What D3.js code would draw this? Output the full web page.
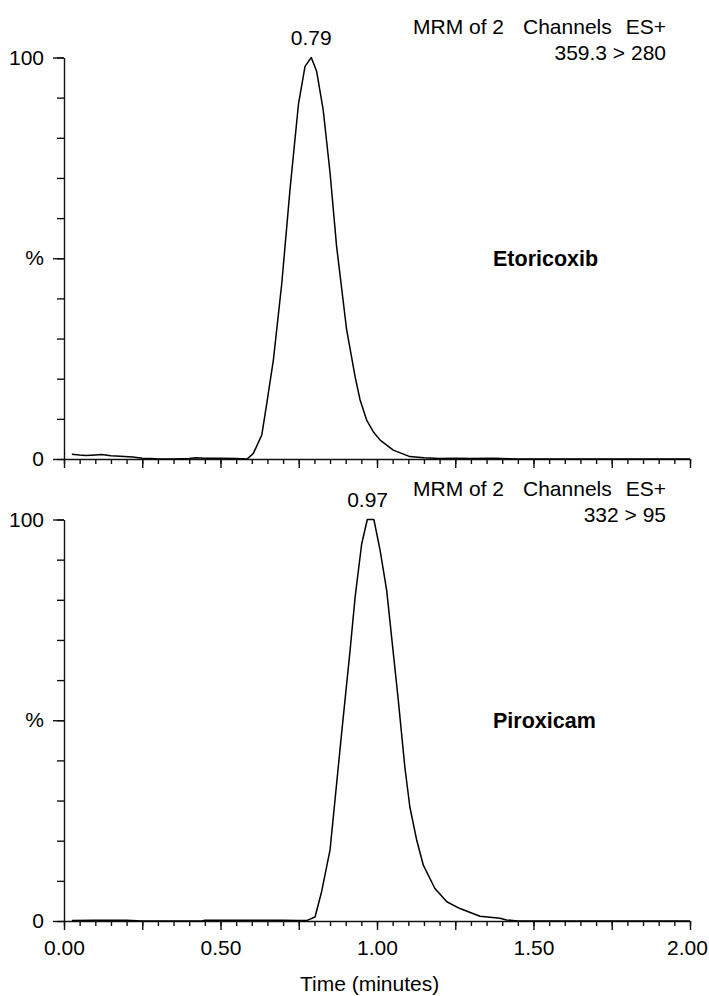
<!DOCTYPE html>
<html>
<head>
<meta charset="utf-8">
<script src="https://cdnjs.cloudflare.com/ajax/libs/d3/7.8.5/d3.min.js"></script>
<style>
body { margin: 0; background: #fff; }
text { font-family: "Liberation Sans", Arial, sans-serif; fill: #000; }
</style>
</head>
<body>
<svg id="chrom" width="709" height="996"></svg>
<script>
// Etoricoxib trace, time (min) and relative intensity (%)
var etoTime = [0.025, 0.05, 0.07, 0.10, 0.12, 0.15, 0.18, 0.22, 0.25, 0.28, 0.30, 0.35, 0.40, 0.42, 0.45, 0.50, 0.55, 0.585,
               0.605, 0.632, 0.648, 0.669, 0.696, 0.722, 0.749, 0.770, 0.790, 0.807, 0.828, 0.850, 0.871, 0.903, 0.930,
               0.946, 0.967, 0.988, 1.010, 1.052, 1.105, 1.15, 1.20, 1.25, 1.30, 1.37, 1.45, 1.60, 1.80, 2.00];
var etoPct  = [1.2, 1.0, 0.9, 1.0, 1.1, 0.8, 0.7, 0.5, 0.2, 0.1, 0, 0, 0.1, 0.3, 0.2, 0.2, 0.1, 0,
               1.4, 6.0, 13.9, 24.7, 43.9, 67.1, 88.3, 97.8, 100, 96.6, 87.0, 71.3, 52.9, 32.2, 20.5,
               14.7, 9.7, 6.8, 4.7, 2.2, 0.6, 0.3, 0.1, 0.2, 0.1, 0.2, 0, 0, 0, 0];

// Piroxicam trace
var piroTime = [0.025, 0.10, 0.20, 0.25, 0.44, 0.45, 0.60, 0.70, 0.75, 0.775, 0.802, 0.823, 0.850, 0.887, 0.914, 0.930,
                0.951, 0.969, 0.990, 1.010, 1.031, 1.068, 1.089, 1.105, 1.127, 1.148, 1.185, 1.223, 1.265, 1.329,
                1.393, 1.414, 1.45, 1.60, 1.80, 2.00];
var piroPct  = [0.1, 0.2, 0.2, 0, 0, 0.2, 0.2, 0.2, 0.1, 0.1, 1.0, 7.3, 17.7, 46.8, 67.4, 80.6,
                93.9, 100, 100, 92.3, 82.3, 55.0, 38.3, 28.4, 20.1, 13.9, 8.1, 4.8, 3.1, 1.2,
                0.7, 0.25, 0, 0, 0, 0];

var compounds = ["Etoricoxib", "Piroxicam"];
var transitions = ["359.3 > 280", "332 > 95"];
var apexTimes = [0.79, 0.97];
var xLabels = ["0.00", "0.50", "1.00", "1.50", "2.00"];
var yLabels = ["0", "%", "100"];

var svg = d3.select("#chrom"),
    fontSize = 21;

var x = d3.scaleLinear().domain([0, 2]).range([64, 690]);

var panels = [
  {zero: 459, time: etoTime, pct: etoPct, name: compounds[0], trans: transitions[0], apex: apexTimes[0], labels: false},
  {zero: 921, time: piroTime, pct: piroPct, name: compounds[1], trans: transitions[1], apex: apexTimes[1], labels: true}
];

function isMultiple(v, step) {
  return Math.abs(v / step - Math.round(v / step)) < 1e-6;
}

panels.forEach(function(p) {
  var y = d3.scaleLinear().domain([0, 100]).range([p.zero, p.zero - 401.5]);
  var g = svg.append("g");

  // x axis: minor ticks every 0.05, major every 0.25
  g.append("g")
    .attr("transform", "translate(0," + p.zero + ")")
    .call(d3.axisBottom(x).tickValues(d3.range(0, 2.001, 0.05)).tickSize(5).tickSizeOuter(0).tickFormat(""));
  var xMajor = g.append("g")
    .attr("transform", "translate(0," + p.zero + ")")
    .call(d3.axisBottom(x).tickValues(d3.range(0, 2.001, 0.25)).tickSize(9).tickSizeOuter(0).tickPadding(10)
      .tickFormat(function(d) {
        if (!p.labels || !isMultiple(d, 0.5)) return "";
        return xLabels[Math.round(d / 0.5)];
      }));
  xMajor.select(".domain").remove();
  // last label sits against the right edge, nudge it in
  xMajor.selectAll(".tick text").filter(function(d) { return d > 1.99; }).attr("dx", -3);

  // y axis: ticks every 10, longer at 0, 50, 100
  g.append("g")
    .attr("transform", "translate(64,0)")
    .call(d3.axisLeft(y).tickValues(d3.range(0, 101, 10)).tickSize(7).tickSizeOuter(0).tickFormat(""));
  var yMajor = g.append("g")
    .attr("transform", "translate(64,0)")
    .call(d3.axisLeft(y).tickValues([0, 50, 100]).tickSize(11).tickSizeOuter(0).tickPadding(9)
      .tickFormat(function(d, i) { return yLabels[i]; }));
  yMajor.select(".domain").remove();

  g.selectAll(".tick line, .domain").attr("stroke", "#111").attr("stroke-width", 1.4);
  g.selectAll(".tick text").attr("font-size", fontSize).attr("font-family", "Liberation Sans, Arial, sans-serif").attr("fill", "#000");

  // trace
  var pts = p.time.map(function(t, i) { return [t, p.pct[i]]; });
  g.append("path")
    .datum(pts)
    .attr("fill", "none")
    .attr("stroke", "#000")
    .attr("stroke-width", 1.5)
    .attr("stroke-linejoin", "round")
    .attr("d", d3.line().x(function(d) { return x(d[0]); }).y(function(d) { return y(d[1]); }));

  // apex label
  g.append("text")
    .attr("x", x(p.apex))
    .attr("y", y(100) - 12.5)
    .attr("text-anchor", "middle")
    .attr("font-size", fontSize)
    .text(p.apex.toFixed(2));

  // header
  var top = y(100);
  g.append("text").attr("x", 413).attr("y", top - 24).attr("font-size", fontSize).text("MRM of 2");
  g.append("text").attr("x", 523).attr("y", top - 24).attr("font-size", fontSize).text("Channels");
  g.append("text").attr("x", 666).attr("y", top - 24).attr("text-anchor", "end").attr("font-size", fontSize).text("ES+");
  g.append("text").attr("x", 666).attr("y", top + 2).attr("text-anchor", "end").attr("font-size", fontSize).text(p.trans);

  // compound name
  g.append("text")
    .attr("x", 493)
    .attr("y", y(50) + 8)
    .attr("font-size", 21.5)
    .attr("font-weight", "bold")
    .text(p.name);
});

svg.append("text")
  .attr("x", 300)
  .attr("y", 991)
  .attr("font-size", fontSize)
  .text("Time (minutes)");
</script>
</body>
</html>
